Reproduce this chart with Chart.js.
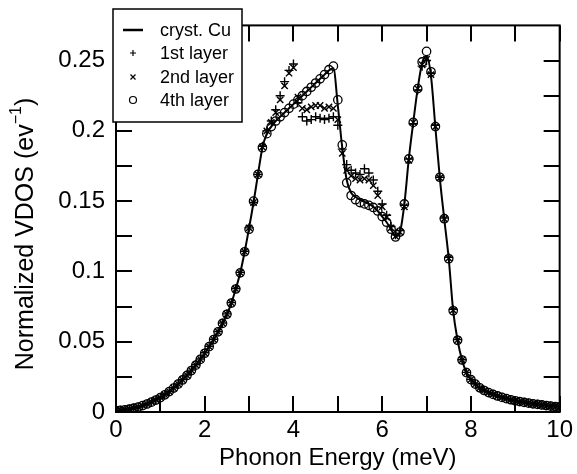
<!DOCTYPE html>
<html>
<head>
<meta charset="utf-8">
<script src="https://cdn.jsdelivr.net/npm/chart.js@4/dist/chart.umd.min.js"></script>
<style>
html,body{margin:0;padding:0;background:#fff;}
#wrap{width:577px;height:474px;position:relative;}
</style>
</head>
<body>
<div id="wrap"><canvas id="c" width="577" height="474"></canvas></div>
<script>
// ---------------- DATA ----------------
const energy = [0.0,0.1,0.2,0.3,0.4,0.5,0.6,0.7,0.8,0.9,
1.0,1.1,1.2,1.3,1.4,1.5,1.6,1.7,1.8,1.9,
2.0,2.1,2.2,2.3,2.4,2.5,2.6,2.7,2.8,2.9,
3.0,3.1,3.2,3.3,3.4,3.5,3.6,3.7,3.8,3.9,
4.0,4.1,4.2,4.3,4.4,4.5,4.6,4.7,4.8,4.9,
5.0,5.1,5.2,5.3,5.4,5.5,5.6,5.7,5.8,5.9,
6.0,6.1,6.2,6.3,6.4,6.5,6.6,6.7,6.8,6.9,
7.0,7.1,7.2,7.3,7.4,7.5,7.6,7.7,7.8,7.9,
8.0,8.1,8.2,8.3,8.4,8.5,8.6,8.7,8.8,8.9,
9.0,9.1,9.2,9.3,9.4,9.5,9.6,9.7,9.8,9.9,10.0];

const crystCu = [0.0010,0.0012,0.0015,0.0020,0.0027,0.0035,0.0045,0.0057,0.0070,0.0085,
0.0102,0.0122,0.0145,0.0170,0.0198,0.0228,0.0260,0.0295,0.0333,0.0374,
0.0418,0.0465,0.0515,0.0570,0.0630,0.0695,0.0775,0.0875,0.0990,0.1140,
0.1310,0.1490,0.1690,0.1880,0.1980,0.2030,0.2070,0.2100,0.2130,0.2160,
0.2190,0.2220,0.2250,0.2280,0.2310,0.2340,0.2370,0.2400,0.2430,0.2445,
0.2180,0.1880,0.1650,0.1560,0.1530,0.1510,0.1495,0.1480,0.1460,0.1430,
0.1390,0.1350,0.1300,0.1250,0.1280,0.1480,0.1800,0.2060,0.2300,0.2480,
0.2530,0.2390,0.2020,0.1660,0.1370,0.1090,0.0720,0.0510,0.0370,0.0280,
0.0230,0.0198,0.0172,0.0153,0.0138,0.0125,0.0114,0.0104,0.0095,0.0087,
0.0080,0.0074,0.0068,0.0063,0.0058,0.0054,0.0050,0.0046,0.0042,0.0039,0.0036];

const layer1 = [0.0010,0.0013,0.0016,0.0021,0.0028,0.0036,0.0046,0.0058,0.0072,0.0087,
0.0104,0.0124,0.0147,0.0172,0.0200,0.0231,0.0263,0.0298,0.0336,0.0377,
0.0421,0.0468,0.0518,0.0573,0.0633,0.0698,0.0778,0.0878,0.0993,0.1143,
0.1310,0.1490,0.1690,0.1890,0.2000,0.2070,0.2150,0.2250,0.2350,0.2430,
0.2475,0.2200,0.2100,0.2070,0.2080,0.2100,0.2090,0.2080,0.2090,0.2100,
0.2040,0.1870,0.1760,0.1720,0.1700,0.1690,0.1730,0.1700,0.1650,0.1570,
0.1480,0.1400,0.1320,0.1260,0.1290,0.1470,0.1800,0.2050,0.2290,0.2460,
0.2500,0.2410,0.2040,0.1670,0.1380,0.1100,0.0730,0.0515,0.0372,0.0282,
0.0232,0.0199,0.0173,0.0154,0.0139,0.0126,0.0115,0.0105,0.0096,0.0088,
0.0081,0.0075,0.0069,0.0064,0.0059,0.0055,0.0051,0.0047,0.0043,0.0040,0.0037];

const layer2 = [0.0010,0.0012,0.0015,0.0020,0.0027,0.0035,0.0045,0.0057,0.0071,0.0086,
0.0103,0.0123,0.0146,0.0171,0.0199,0.0229,0.0261,0.0296,0.0334,0.0375,
0.0419,0.0466,0.0516,0.0571,0.0631,0.0696,0.0776,0.0876,0.0991,0.1141,
0.1310,0.1490,0.1690,0.1885,0.2000,0.2060,0.2130,0.2220,0.2320,0.2410,
0.2450,0.2240,0.2160,0.2150,0.2170,0.2180,0.2180,0.2160,0.2170,0.2160,
0.2080,0.1840,0.1720,0.1680,0.1660,0.1650,0.1660,0.1650,0.1610,0.1540,
0.1460,0.1385,0.1310,0.1250,0.1280,0.1460,0.1790,0.2060,0.2300,0.2470,
0.2510,0.2400,0.2030,0.1665,0.1375,0.1095,0.0725,0.0512,0.0371,0.0281,
0.0231,0.0198,0.0172,0.0153,0.0138,0.0125,0.0114,0.0104,0.0095,0.0087,
0.0080,0.0074,0.0068,0.0063,0.0058,0.0054,0.0050,0.0046,0.0042,0.0039,0.0036];

const layer4 = [0.0010,0.0012,0.0015,0.0020,0.0027,0.0035,0.0045,0.0057,0.0070,0.0085,
0.0102,0.0122,0.0145,0.0170,0.0198,0.0228,0.0260,0.0295,0.0333,0.0374,
0.0418,0.0465,0.0515,0.0570,0.0630,0.0695,0.0775,0.0875,0.0990,0.1140,
0.1300,0.1500,0.1690,0.1880,0.1980,0.2030,0.2070,0.2100,0.2130,0.2160,
0.2190,0.2220,0.2250,0.2280,0.2310,0.2340,0.2370,0.2400,0.2435,0.2460,
0.2220,0.1900,0.1630,0.1540,0.1510,0.1490,0.1480,0.1470,0.1455,0.1430,
0.1390,0.1350,0.1300,0.1245,0.1280,0.1480,0.1800,0.2060,0.2300,0.2490,
0.2565,0.2420,0.2030,0.1670,0.1375,0.1090,0.0720,0.0510,0.0370,0.0280,
0.0230,0.0198,0.0172,0.0153,0.0138,0.0125,0.0114,0.0104,0.0095,0.0087,
0.0080,0.0074,0.0068,0.0063,0.0058,0.0054,0.0050,0.0046,0.0042,0.0039,0.0036];

const seriesLabels = ['cryst. Cu', '1st layer', '2nd layer', '4th layer'];
const xTicks = [0, 2, 4, 6, 8, 10];
const xMinorTicks = [1, 3, 5, 7, 9];
const yTicks = [0, 0.05, 0.1, 0.15, 0.2, 0.25];
const yMinorTicks = [0.025, 0.075, 0.125, 0.175, 0.225];
const xTitle = 'Phonon Energy (meV)';
const yTitleMain = 'Normalized VDOS (ev';
const yTitleSup = '\u22121';
const yTitleEnd = ')';

// ---------------- CHART ----------------
const FONT = '"Liberation Sans", Arial, Helvetica, sans-serif';
const pts = arr => energy.map((e, i) => ({x: e, y: arr[i]}));

const framePlugin = {
  id: 'frame',
  afterDatasetsDraw(chart) {
    const {ctx, chartArea: a, scales: {x, y}} = chart;
    ctx.save();
    ctx.strokeStyle = '#000';
    ctx.lineWidth = 2;
    const TL = 16;
    ctx.beginPath();
    [...xTicks, ...xMinorTicks].forEach(v => {
      const px = Math.round(x.getPixelForValue(v));
      ctx.moveTo(px, a.bottom); ctx.lineTo(px, a.bottom - TL);
      ctx.moveTo(px, a.top); ctx.lineTo(px, a.top + TL);
    });
    [...yTicks, ...yMinorTicks].forEach(v => {
      const py = Math.round(y.getPixelForValue(v));
      ctx.moveTo(a.left, py); ctx.lineTo(a.left + TL, py);
      ctx.moveTo(a.right, py); ctx.lineTo(a.right - TL, py);
    });
    ctx.stroke();
    ctx.strokeRect(a.left, a.top, a.right - a.left, a.bottom - a.top);

    // legend box
    const lx = 113, ly = 9, lw = 129, lh = 113;
    ctx.fillStyle = '#fff';
    ctx.fillRect(lx, ly, lw, lh);
    ctx.lineWidth = 1.5;
    ctx.strokeRect(lx, ly, lw, lh);
    const rows = [30, 53, 77, 100];
    const mx = 133;
    ctx.font = '18px ' + FONT;
    ctx.fillStyle = '#000';
    ctx.textBaseline = 'middle';
    ctx.textAlign = 'left';
    chart.data.datasets.forEach((ds, i) => {
      const ry = rows[i];
      ctx.lineWidth = i === 0 ? 2.5 : 1.2;
      ctx.beginPath();
      if (i === 0) {
        ctx.moveTo(123, ry); ctx.lineTo(143, ry);
      } else if (ds.pointStyle === 'cross') {
        ctx.moveTo(mx - 3, ry); ctx.lineTo(mx + 3, ry);
        ctx.moveTo(mx, ry - 3); ctx.lineTo(mx, ry + 3);
      } else if (ds.pointStyle === 'crossRot') {
        ctx.moveTo(mx - 2.5, ry - 2.5); ctx.lineTo(mx + 2.5, ry + 2.5);
        ctx.moveTo(mx - 2.5, ry + 2.5); ctx.lineTo(mx + 2.5, ry - 2.5);
      } else {
        ctx.arc(mx, ry, 3.5, 0, Math.PI * 2);
      }
      ctx.stroke();
      ctx.fillText(ds.label, 160, ry + 1);
    });

    // axis titles
    ctx.font = '24px ' + FONT;
    ctx.textAlign = 'center';
    ctx.textBaseline = 'middle';
    ctx.fillText(xTitle, (a.left + a.right) / 2, 458);

    ctx.save();
    const mainFont = '25px ' + FONT;
    const supFont = '16px ' + FONT;
    ctx.font = mainFont;
    const w1 = ctx.measureText(yTitleMain).width;
    const w3 = ctx.measureText(yTitleEnd).width;
    ctx.font = supFont;
    const w2 = ctx.measureText(yTitleSup).width;
    const total = w1 + w2 + w3;
    ctx.translate(24, 234);
    ctx.rotate(-Math.PI / 2);
    ctx.textAlign = 'left';
    ctx.textBaseline = 'alphabetic';
    let sx = -total / 2;
    ctx.font = mainFont;
    ctx.fillText(yTitleMain, sx, 9);
    sx += w1;
    ctx.font = supFont;
    ctx.fillText(yTitleSup, sx, -3);
    sx += w2;
    ctx.font = mainFont;
    ctx.fillText(yTitleEnd, sx, 9);
    ctx.restore();

    ctx.restore();
  }
};

new Chart(document.getElementById('c'), {
  type: 'line',
  data: {
    datasets: [
      {label: seriesLabels[0], data: pts(crystCu), borderColor: '#000', borderWidth: 2,
       pointRadius: 0, cubicInterpolationMode: 'monotone', fill: false, order: 0},
      {label: seriesLabels[1], data: pts(layer1), showLine: false, pointStyle: 'cross',
       pointRadius: 4.5, borderColor: '#000', borderWidth: 1.4, pointBorderWidth: 1.4, order: 1},
      {label: seriesLabels[2], data: pts(layer2), showLine: false, pointStyle: 'crossRot',
       pointRadius: 4.5, borderColor: '#000', borderWidth: 1.4, pointBorderWidth: 1.4, order: 2},
      {label: seriesLabels[3], data: pts(layer4), showLine: false, pointStyle: 'circle',
       pointRadius: 4.2, borderColor: '#000', backgroundColor: 'rgba(0,0,0,0)', borderWidth: 1.3,
       pointBorderWidth: 1.3, order: 3}
    ]
  },
  options: {
    responsive: false,
    animation: false,
    devicePixelRatio: 1,
    layout: {padding: {left: 0, top: 10, right: 15, bottom: 0}},
    plugins: {legend: {display: false}, tooltip: {enabled: false}},
    scales: {
      x: {
        type: 'linear', min: 0, max: 10,
        grid: {display: false, drawTicks: false},
        border: {display: false},
        afterBuildTicks: s => { s.ticks = xTicks.map(v => ({value: v})); },
        afterFit: s => { s.height = 62; },
        ticks: {color: '#000', font: {size: 24, family: FONT}, padding: 4,
                maxRotation: 0, callback: v => String(v)}
      },
      y: {
        type: 'linear', min: 0, max: 0.275,
        grid: {display: false, drawTicks: false},
        border: {display: false},
        afterBuildTicks: s => { s.ticks = yTicks.map(v => ({value: v})); },
        afterFit: s => { s.width = 116; },
        ticks: {color: '#000', font: {size: 24, family: FONT}, padding: 11,
                callback: v => String(+(+v).toFixed(3))}
      }
    }
  },
  plugins: [framePlugin]
});
</script>
</body>
</html>
